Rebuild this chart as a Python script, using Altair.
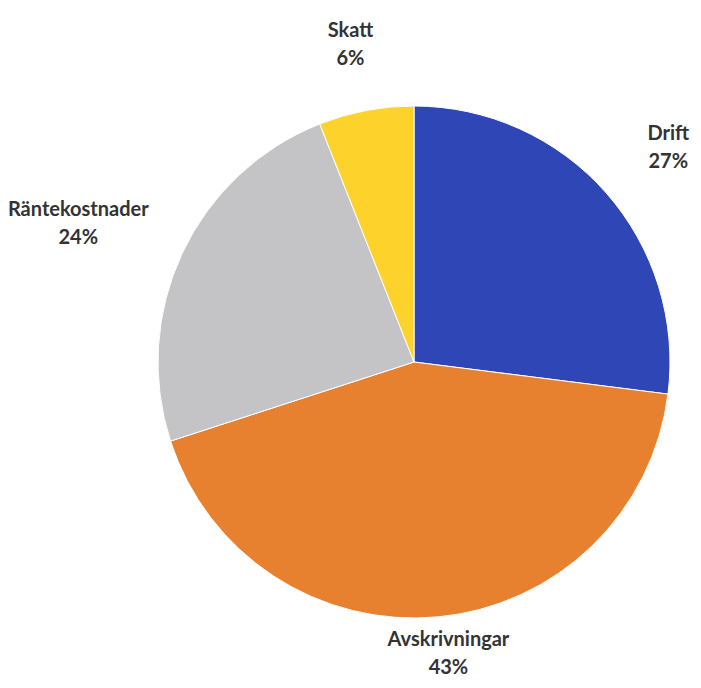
import altair as alt
import pandas as pd

categories = ["Drift", "Avskrivningar", "Räntekostnader", "Skatt"]
values = [27, 43, 24, 6]
colors = ["#2f47b6", "#e7812f", "#c4c4c6", "#fdd22a"]

df = pd.DataFrame({
    "kategori": categories,
    "andel": values,
    "ordning": list(range(len(categories))),
})

W, H = 685, 672     # view size
CX, CY = 406, 354   # pie centre inside the view
R = 256             # pie radius
GAP = 45            # label distance beyond the rim
CHAR_W = 10         # approx. label character width
MIN_HALF_W = 38     # minimum half width of a label box
HALF_H = 22         # half height of a two-line label
LINE_H = 28
BOTTOM_PAD = 4      # keep the lowest label inside the view

base = alt.Chart(df).transform_window(
    cum="sum(andel)", sort=[alt.SortField("ordning")]
).transform_joinaggregate(
    total="sum(andel)"
).transform_calculate(
    mid="(datum.cum - datum.andel / 2) / datum.total * 2 * PI",
    label="datum.kategori + '\\n' + datum.andel + '%'",
    halfW=f"max(length(datum.kategori) * {CHAR_W} / 2, {MIN_HALF_W})",
).transform_calculate(
    lx=f"{CX} + ({R} + {GAP} + datum.halfW) * sin(datum.mid)",
    cy=f"min({CY} - ({R} + {GAP} + {HALF_H}) * cos(datum.mid), {H} - {HALF_H} - {BOTTOM_PAD})",
).transform_calculate(
    ly=f"datum.cy - {LINE_H} / 2",
)

pie = base.mark_arc(outerRadius=R, stroke="white", strokeWidth=1).encode(
    theta=alt.Theta("andel:Q", stack=True),
    order=alt.Order("ordning:O"),
    color=alt.Color("kategori:N", scale=alt.Scale(domain=categories, range=colors), legend=None),
    x=alt.value(CX),
    y=alt.value(CY),
)

labels = base.mark_text(
    font="Lato", fontSize=20, fontWeight="bold", color="#333333",
    lineHeight=LINE_H, align="center", baseline="middle", lineBreak="\n",
).encode(
    x=alt.X("lx:Q", scale=None),
    y=alt.Y("ly:Q", scale=None),
    text=alt.Text("label:N"),
)

chart = alt.layer(pie, labels).properties(
    width=W, height=H, padding=0, autosize="none"
).configure_view(stroke=None)

chart.save("out.html", embed_options={"renderer": "svg", "actions": False})
